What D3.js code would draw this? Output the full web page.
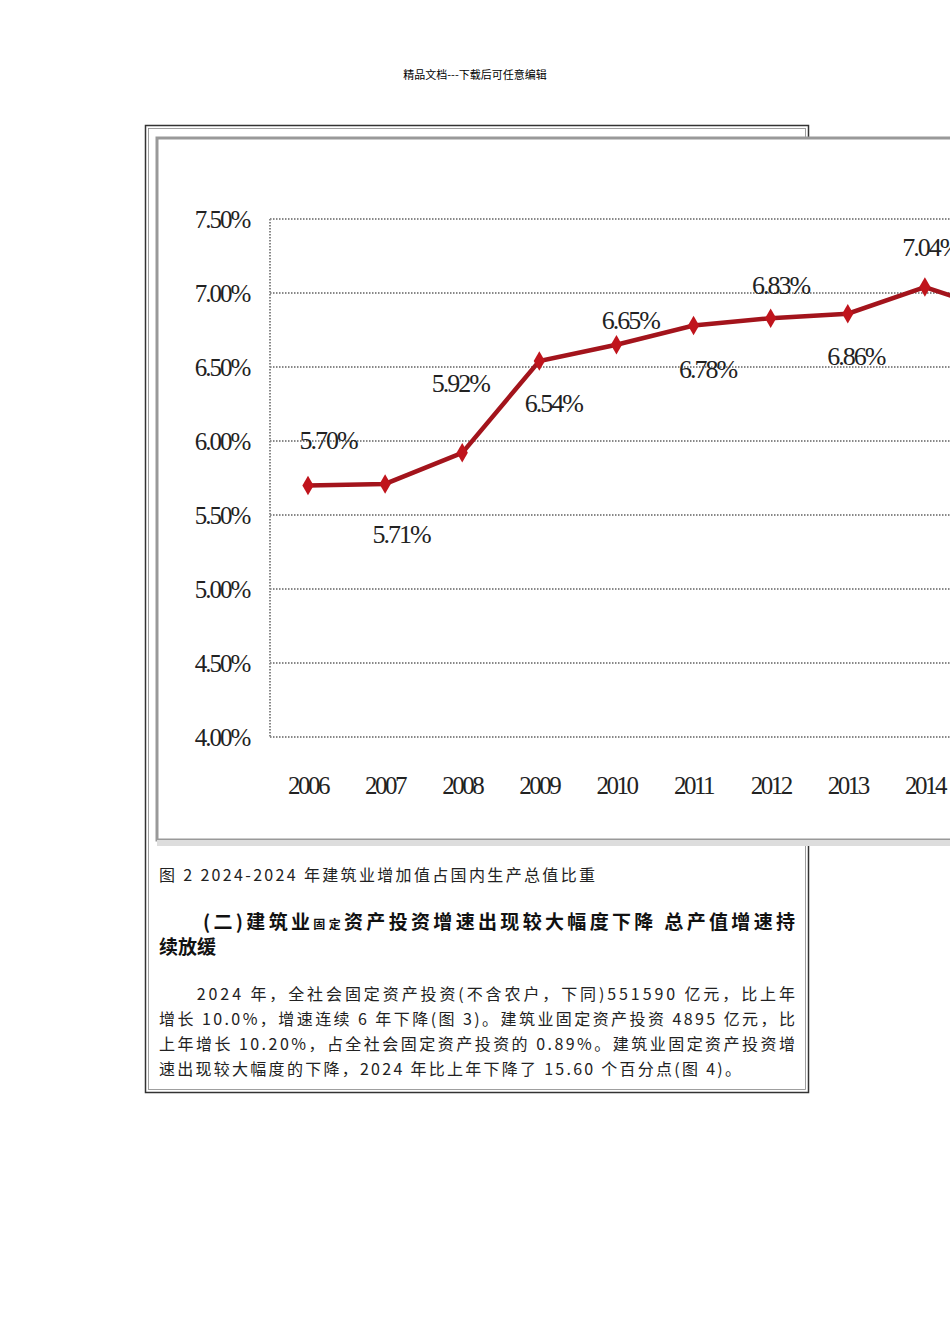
<!DOCTYPE html><html><head><meta charset="utf-8">
<script src="https://cdn.jsdelivr.net/npm/d3@7"></script>
<style>body{margin:0;background:#fff;overflow:hidden}svg{display:block}</style></head><body>
<svg id="c" width="950" height="1344"></svg>
<script>
const years=["2006","2007","2008","2009","2010","2011","2012","2013","2014","2015"];
const values=[5.70,5.71,5.92,6.54,6.65,6.78,6.83,6.86,7.04,6.87];
const labelText=["5.70%","5.71%","5.92%","6.54%","6.65%","6.78%","6.83%","6.86%","7.04%",""];
const labelDx=[20,16,-2,14,14,14,10,8,6,0];
const labelDy=[-45,50,-70,42,-25,43,-33,42,-40,0];
const yTicks=[4.0,4.5,5.0,5.5,6.0,6.5,7.0,7.5];
const svg=d3.select("#c");
svg.append("text").attr("x",475).attr("y",79).attr("text-anchor","middle").attr("font-family","Noto Sans CJK SC").attr("font-size",11).text("精品文档---下载后可任意编辑");
svg.append("rect").attr("x",145.5).attr("y",125.5).attr("width",663).attr("height",967).attr("fill","none").attr("stroke","#333").attr("stroke-width",1.5);
svg.append("rect").attr("x",148.5).attr("y",128.5).attr("width",657).attr("height",961).attr("fill","none").attr("stroke","#888").attr("stroke-width",0.8);
svg.append("rect").attr("x",157).attr("y",138).attr("width",820).attr("height",702).attr("fill","#fff").attr("stroke","#999").attr("stroke-width",3);
svg.append("rect").attr("x",157).attr("y",840).attr("width",820).attr("height",6).attr("fill","#ddd");
const x=d3.scalePoint().domain(years).range([308,1002]);
const y=d3.scaleLinear().domain([4,7.5]).range([737,219]);
const g=svg.append("g");
yTicks.forEach(t=>{
 g.append("line").attr("x1",270).attr("x2",950).attr("y1",y(t)).attr("y2",y(t)).attr("stroke","#888").attr("stroke-width",2).attr("stroke-dasharray","1.5,1.5");
 g.append("text").attr("x",222).attr("y",y(t)+9).attr("text-anchor","middle").attr("font-family","Liberation Serif").attr("font-size",25).attr("letter-spacing",-2).attr("fill","#222").text(t.toFixed(2)+"%");
});
g.append("line").attr("x1",270).attr("x2",270).attr("y1",219).attr("y2",737).attr("stroke","#888").attr("stroke-width",2).attr("stroke-dasharray","1.5,1.5");
years.forEach(yr=>g.append("text").attr("x",x(yr)).attr("y",794).attr("text-anchor","middle").attr("font-family","Liberation Serif").attr("font-size",25).attr("letter-spacing",-2.5).attr("fill","#222").text(yr));
const line=d3.line().x((d,i)=>x(years[i])).y(d=>y(d));
g.append("path").datum(values).attr("d",line).attr("fill","none").attr("stroke","#a3141c").attr("stroke-width",4.5);
g.selectAll("path.m").data(values).join("path").attr("class","m").attr("d",d3.symbol(d3.symbolDiamond,110)).attr("transform",(d,i)=>`translate(${x(years[i])},${y(d)})`).attr("fill","#c0141c");
g.selectAll("text.l").data(values).join("text").attr("class","l").attr("x",(d,i)=>x(years[i])+labelDx[i]).attr("y",(d,i)=>y(d)+labelDy[i]+9).attr("text-anchor","middle").attr("font-family","Liberation Serif").attr("font-size",26).attr("letter-spacing",-2).attr("fill","#222").text((d,i)=>labelText[i]);
const f="Noto Sans CJK SC";
svg.append("text").attr("x",159).attr("y",881).attr("font-family",f).attr("font-size",16).attr("fill","#222").attr("textLength",436).attr("lengthAdjust","spacing").text("图 2  2024-2024 年建筑业增加值占国内生产总值比重");
const h=svg.append("text").attr("x",203).attr("y",929).attr("font-family",f).attr("font-size",19).attr("font-weight","bold").attr("fill","#111").attr("textLength",592).attr("lengthAdjust","spacing");
h.append("tspan").text("(二)建筑业");h.append("tspan").attr("font-size",12).text("固定");h.append("tspan").text("资产投资增速出现较大幅度下降  总产值增速持");
svg.append("text").attr("x",159).attr("y",954).attr("font-family",f).attr("font-size",19).attr("font-weight","bold").attr("fill","#111").text("续放缓");
const para=["　　2024 年，全社会固定资产投资(不含农户，下同)551590 亿元，比上年","增长 10.0%，增速连续 6 年下降(图 3)。建筑业固定资产投资 4895 亿元，比","上年增长 10.20%，占全社会固定资产投资的 0.89%。建筑业固定资产投资增","速出现较大幅度的下降，2024 年比上年下降了 15.60 个百分点(图 4)。"];
const lens=[636,636,636,582];
para.forEach((p,i)=>svg.append("text").attr("x",159).attr("y",1000+i*25).attr("font-family",f).attr("font-size",16).attr("fill","#222").attr("textLength",lens[i]).attr("lengthAdjust","spacing").text(p));
</script></body></html>
